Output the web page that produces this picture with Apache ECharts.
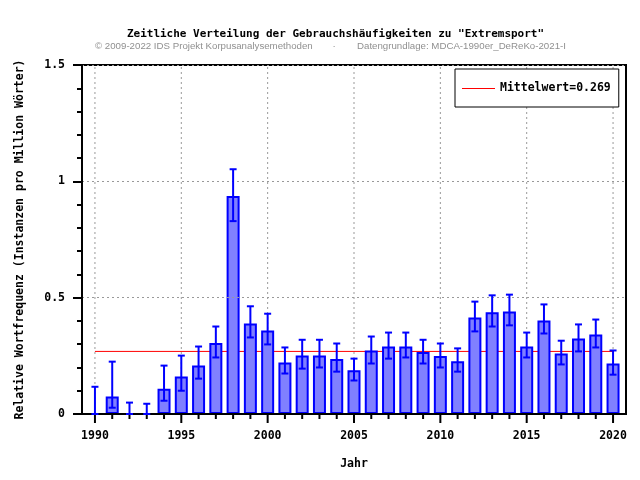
<!DOCTYPE html>
<html><head><meta charset="utf-8">
<script src="https://cdn.jsdelivr.net/npm/echarts@6/dist/echarts.min.js"></script>
<style>html,body{margin:0;padding:0;background:#fff}#c{width:640px;height:480px}</style>
</head><body><div id="c"></div>
<script>
const years = [1990,1991,1992,1993,1994,1995,1996,1997,1998,1999,2000,2001,2002,2003,2004,2005,2006,2007,2008,2009,2010,2011,2012,2013,2014,2015,2016,2017,2018,2019,2020];
const values = [0,0.075,0,0,0.109,0.161,0.208,0.305,0.937,0.389,0.359,0.221,0.251,0.251,0.236,0.188,0.273,0.290,0.290,0.266,0.249,0.227,0.415,0.437,0.441,0.290,0.402,0.260,0.325,0.342,0.217];
const errLow = [0,0.027,0,0,0.057,0.100,0.152,0.243,0.829,0.329,0.299,0.174,0.195,0.200,0.182,0.144,0.217,0.238,0.243,0.217,0.200,0.182,0.355,0.376,0.381,0.243,0.346,0.213,0.269,0.286,0.169];
const errHigh = [0.117,0.225,0.049,0.044,0.208,0.251,0.290,0.376,1.052,0.463,0.431,0.286,0.319,0.319,0.303,0.238,0.333,0.350,0.350,0.319,0.303,0.282,0.483,0.510,0.513,0.350,0.471,0.315,0.385,0.406,0.273];
const meanValue = 0.269;
const meanRange = [1990, 2020];
const xTickYears = years;

const MONO = '"DejaVu Sans Mono", monospace';
const SUB = '9.7px "Liberation Sans", Arial, sans-serif';
const chart = echarts.init(document.getElementById('c'), null, {renderer:'canvas'});

const barData = years.map((y,i)=> values[i] === 0
  ? {value:[y, values[i]], itemStyle:{borderWidth:0}}
  : {value:[y, values[i]]});
const errData = years.map((y,i)=>[y, errLow[i], errHigh[i]]);
const meanLabel = 'Mittelwert=' + meanValue.toFixed(3);

chart.setOption({
  animation:false,
  backgroundColor:'#fff',
  graphic:[
    {type:'text', x:335.5, y:34, style:{text:'Zeitliche Verteilung der Gebrauchshäufigkeiten zu "Extremsport"', font:'bold 11px '+MONO, fill:'#000', align:'center', verticalAlign:'middle'}},
    {type:'text', x:95, y:46, style:{text:'© 2009-2022 IDS Projekt Korpusanalysemethoden', font:SUB, fill:'#909090', align:'left', verticalAlign:'middle'}},
    {type:'text', x:334, y:46, style:{text:'·', font:SUB, fill:'#909090', align:'center', verticalAlign:'middle'}},
    {type:'text', x:357, y:46, style:{text:'Datengrundlage: MDCA-1990er_DeReKo-2021-I', font:SUB, fill:'#909090', align:'left', verticalAlign:'middle'}}
  ],
  grid:{left:82, right:14, top:65, bottom:66, show:true, borderColor:'#000', borderWidth:2, backgroundColor:'transparent', z:3},
  legend:{
    data:[{name:meanLabel, icon:'rect', itemStyle:{color:'#ff0000'}}], left:455, top:69, orient:'vertical',
    backgroundColor:'#fff', borderColor:'#000', borderWidth:1,
    padding:[13.5,8,12.5,7], itemWidth:33, itemHeight:1,
    textStyle:{fontFamily:MONO, fontWeight:'bold', fontSize:11.5, color:'#000'}
  },
  xAxis:{
    type:'value', min:1989.25, max:2020.75,
    name:'Jahr', nameLocation:'middle', nameGap:44,
    nameTextStyle:{fontFamily:MONO, fontWeight:'bold', fontSize:11.5, color:'#000'},
    axisLine:{show:true, onZero:false, lineStyle:{color:'#000', width:2}},
    axisTick:{show:false}, axisLabel:{show:false}, splitLine:{show:false}, z:3
  },
  yAxis:{
    type:'value', min:0, max:1.5, interval:0.5,
    name:'Relative Wortfrequenz (Instanzen pro Million Wörter)', nameLocation:'middle', nameGap:56,
    nameTextStyle:{fontFamily:MONO, fontWeight:'bold', fontSize:11.5, color:'#000'},
    axisLine:{show:true, lineStyle:{color:'#000', width:2}},
    axisTick:{show:true, length:9, lineStyle:{color:'#000', width:2}},
    minorTick:{show:true, splitNumber:5, length:5, lineStyle:{color:'#000', width:2}},
    axisLabel:{margin:17, fontFamily:MONO, fontWeight:'bold', fontSize:11.5, color:'#000'},
    splitLine:{show:true, lineStyle:{color:'#999', width:1, type:[2,3]}},
    z:3
  },
  series:[
    {
      type:'custom', name:'xticks', z:1, silent:true, clip:false,
      data:xTickYears.map(y=>[y]),
      renderItem:function(params, api){
        const yr = api.value(0);
        const p = api.coord([yr, 0]);
        const top = api.coord([yr, 1.5]);
        const major = yr % 5 === 0;
        const children = [
          {type:'line', shape:{x1:p[0], y1:p[1], x2:p[0], y2:p[1]+(major?9:5)}, style:{stroke:'#000', lineWidth:2}}
        ];
        if (major) {
          children.push({type:'line', shape:{x1:p[0], y1:p[1], x2:p[0], y2:top[1]}, style:{stroke:'#999', lineWidth:1, lineDash:[2,3]}});
          children.push({type:'text', x:p[0], y:p[1]+22, style:{text:String(yr), font:'bold 11.5px '+MONO, fill:'#000', align:'center', verticalAlign:'middle'}});
        }
        return {type:'group', children:children};
      }
    },
    {
      type:'bar', name:'Frequenz', data:barData, barWidth:13, z:2,
      itemStyle:{color:'#8080ff', borderColor:'#0000ff', borderWidth:2}
    },
    {
      type:'custom', name:'Fehler', z:4, silent:true,
      data:errData,
      renderItem:function(params, api){
        const x = api.value(0);
        const lo = api.coord([x, api.value(1)]);
        const hi = api.coord([x, api.value(2)]);
        const w = 3.5;
        return {type:'group', children:[
          {type:'line', shape:{x1:lo[0], y1:lo[1], x2:hi[0], y2:hi[1]}, style:{stroke:'#0000ff', lineWidth:2}},
          {type:'line', shape:{x1:hi[0]-w, y1:hi[1], x2:hi[0]+w, y2:hi[1]}, style:{stroke:'#0000ff', lineWidth:2}},
          {type:'line', shape:{x1:lo[0]-w, y1:lo[1], x2:lo[0]+w, y2:lo[1]}, style:{stroke:'#0000ff', lineWidth:2}}
        ]};
      }
    },
    {
      type:'line', name:meanLabel, z:1, symbol:'none', silent:true,
      data:meanRange.map(y=>[y, meanValue]),
      lineStyle:{color:'#ff0000', width:1}, itemStyle:{color:'#ff0000'}
    }
  ]
});
</script></body></html>
